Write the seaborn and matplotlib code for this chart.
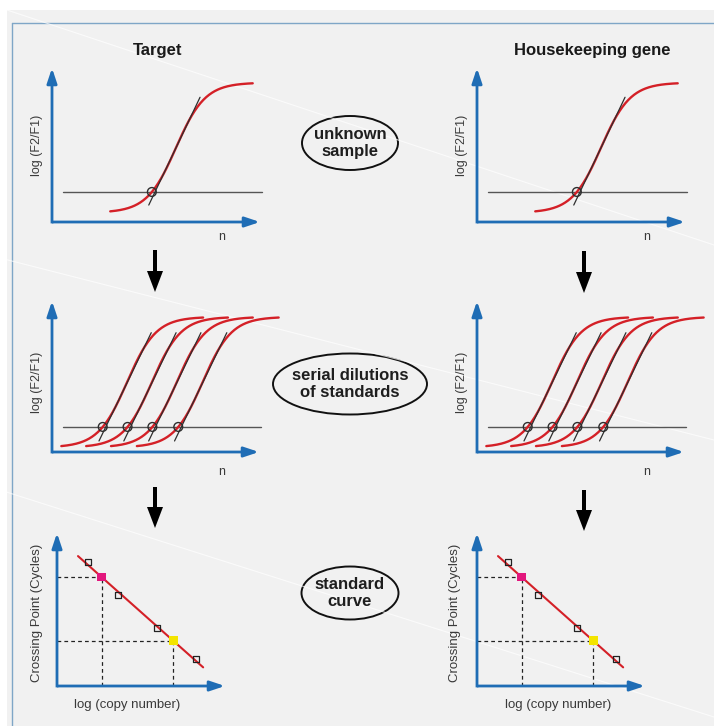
import numpy as np
import matplotlib
matplotlib.use("Agg")
import matplotlib.pyplot as plt
from matplotlib.patches import Ellipse, Rectangle
import seaborn as sns

sns.set_theme(style="white")
plt.rcParams["font.family"] = ["Liberation Sans", "DejaVu Sans"]

# ---- values ----
columns = ["Target", "Housekeeping gene"]

# unknown sample amplification (cycles / log(F2/F1) in 0..1)
unknown_cp = [19.2]
unknown_base, unknown_amp = 0.06, 0.845
unknown_threshold = 0.195
unknown_tangent = [0.11, 0.81]

# serial dilutions of standards
standard_cp = [9.8, 14.6, 19.4, 24.4]
standard_base, standard_amp = 0.03, 0.865
standard_threshold = 0.166
standard_tangent = [0.073, 0.79]

curve_k = 2.8
tangent_slope = 0.071
tangent_touch = 0.3            # fraction of the rise where the tangent touches
curve_span = [-8.0, 19.4]      # cycles drawn around each crossing point
threshold_span = [2.1, 40.4]

# standard curve
log_copies = [1.85, 3.63, 5.95, 8.27]
cp_standards = [32.4, 23.8, 15.2, 7.06]
fit_range = [1.25, 8.7]
sample_cp = [28.5, 11.8]
sample_colors = ["#e2177d", "#f4e500"]

RED = "#d42027"
BLUE = "#1f6db5"
DARK = "#2e2e2e"
W, H = 714, 726

fig = plt.figure(figsize=(W / 100, H / 100), dpi=100)
fig.patch.set_facecolor("white")

bg = fig.add_axes([0, 0, 1, 1], zorder=0)
bg.set_xlim(0, W)
bg.set_ylim(H, 0)
bg.axis("off")

bg.add_patch(Rectangle((7, 10), W, H, fc="#f1f1f1", ec="none"))
bg.plot([12, W], [23, 23], color="#7fa6c7", lw=1.0)
bg.plot([12, 12], [23, H], color="#7fa6c7", lw=1.0)
# faint scan streaks
for (x0, y0, x1, y1) in [(7, 10, W, 245), (0, 258, W, 440), (0, 490, W, 717)]:
    bg.plot([x0, x1], [y0, y1], color="white", lw=0.8, alpha=0.7)


def px_axes(x0, y0, x1, y1):
    # x0,y0 = axis origin in pixels, x1,y1 = arrow tips
    ax = fig.add_axes([x0 / W, 1 - y0 / H, (x1 - x0) / W, (y0 - y1) / H], zorder=2)
    ax.patch.set_alpha(0)
    for s in ax.spines.values():
        s.set_visible(False)
    ax.set_xticks([])
    ax.set_yticks([])
    ax.set_xlabel("")
    ax.set_ylabel("")
    lw = 2.0
    arrow = dict(arrowstyle="-|>,head_length=0.9,head_width=0.3", mutation_scale=10,
                 lw=lw, color=BLUE, shrinkA=0, shrinkB=0, capstyle="butt")
    half = lw / 72 * 100 / 2 / (y0 - y1)
    ax.annotate("", xy=(0, 1), xytext=(0, -half), xycoords="axes fraction",
                arrowprops=arrow, annotation_clip=False)
    ax.annotate("", xy=(1, 0), xytext=(0, 0), xycoords="axes fraction",
                arrowprops=arrow, annotation_clip=False)
    return ax


def amplification(ax, cps, base, amp, thr, tangent):
    ax.set_xlim(0, 40)
    ax.set_ylim(0, 1)
    ax.plot(threshold_span, [thr, thr], color="#555555", lw=1.0, clip_on=False)
    frac = (thr - base) / amp
    u_t = np.log(frac / (1 - frac))
    u_touch = np.log(tangent_touch / (1 - tangent_touch))
    for cp in cps:
        mid = cp - u_t * curve_k
        x = np.linspace(cp + curve_span[0], cp + curve_span[1], 200)
        y = base + amp / (1 + np.exp(-(x - mid) / curve_k))
        sns.lineplot(x=x, y=y, ax=ax, color=RED, lw=1.7, sort=False,
                     estimator=None, clip_on=False)
        px_, py_ = mid + u_touch * curve_k, base + amp * tangent_touch
        ty = np.array(tangent)
        tx = px_ + (ty - py_) / tangent_slope
        sns.lineplot(x=tx, y=ty, ax=ax, color=DARK, lw=0.9, sort=False,
                     estimator=None, clip_on=False)
    sns.scatterplot(x=cps, y=[thr] * len(cps), ax=ax, marker="o", s=40,
                    facecolor="none", edgecolor=DARK, linewidth=1.0,
                    zorder=5, clip_on=False)


def standard_curve(ax):
    ax.set_xlim(0, 10)
    ax.set_ylim(0, 40)
    slope, icpt = np.polyfit(log_copies, cp_standards, 1)
    fx = np.array(fit_range)
    sns.lineplot(x=fx, y=icpt + slope * fx, ax=ax, color=RED, lw=1.5,
                 estimator=None, clip_on=False)
    sx = [(c - icpt) / slope for c in sample_cp]
    for x, c in zip(sx, sample_cp):
        ax.plot([0, x], [c, c], color="#222222", lw=0.9, dashes=(3, 2.5))
        ax.plot([x, x], [0, c], color="#222222", lw=0.9, dashes=(3, 2.5))
    sns.scatterplot(x=log_copies, y=cp_standards, ax=ax, marker="s", s=20,
                    facecolor="none", edgecolor="#222222", linewidth=0.9, zorder=5)
    sns.scatterplot(x=sx, y=sample_cp, ax=ax, marker="s", s=40, hue=sample_colors,
                    palette=sample_colors, legend=False, edgecolor="none", zorder=6)


col_dx = [0, 425]
label_x = [37, 462]
for i, name in enumerate(columns):
    dx = col_dx[i]
    bg.text([158, 592][i], 50, name, ha="center", va="center", fontsize=12,
            fontweight="bold", color="#1a1a1a")

    ax1 = px_axes(52 + dx, 222, 260 + dx, 68)
    amplification(ax1, unknown_cp, unknown_base, unknown_amp, unknown_threshold, unknown_tangent)
    ax2 = px_axes(52 + dx, 452, 259 + dx, 301)
    amplification(ax2, standard_cp, standard_base, standard_amp, standard_threshold, standard_tangent)
    ax3 = px_axes(57 + [0, 420][i], 686, 225 + [0, 420][i], 533)
    standard_curve(ax3)

    for yc in (145, 382):
        bg.text(label_x[i], yc, "log (F2/F1)", rotation=90, ha="center", va="center",
                fontsize=9, color="#3a3a3a")
    for yn in (237, 472):
        bg.text([222, 647][i], yn, "n", ha="center", va="center", fontsize=9, color="#3a3a3a")
    bg.text([37, 455][i], 613, "Crossing Point (Cycles)", rotation=90, ha="center",
            va="center", fontsize=9.5, color="#3a3a3a")
    bg.text([127, 558][i], 705, "log (copy number)", ha="center", va="center",
            fontsize=9.5, color="#3a3a3a")

# down arrows between the rows
for (x, y0, y1) in [(155, 250, 292), (155, 487, 528), (584, 251, 293), (584, 490, 531)]:
    bg.arrow(x, y0, 0, y1 - y0, width=4, head_width=16, head_length=21,
             length_includes_head=True, color="black", lw=0)

# labels in ellipses
for (cx, cy, w, h, txt) in [(350, 143, 96, 54, "unknown\nsample"),
                            (350, 384, 154, 61, "serial dilutions\nof standards"),
                            (350, 593, 97, 53, "standard\ncurve")]:
    bg.add_patch(Ellipse((cx, cy), w, h, fill=False, ec="#111111", lw=1.4))
    bg.text(cx, cy, txt, ha="center", va="center", fontsize=12, fontweight="bold",
            color="#1e1e1e", linespacing=1.1)

fig.savefig("out.png", dpi=100, facecolor="white")
